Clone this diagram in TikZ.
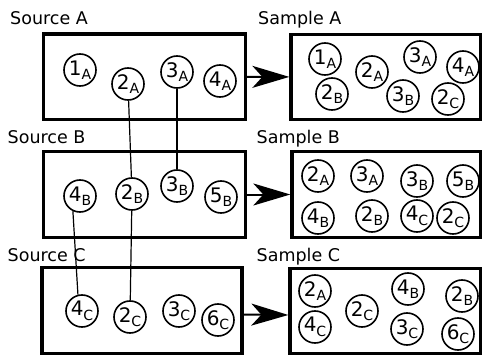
\documentclass[tikz,border=0pt]{standalone}
\usepackage{fontspec}
\setmainfont{DejaVu Sans}
\usetikzlibrary{arrows.meta}
\newcommand{\circtxt}[2]{{\fontsize{20}{20}\selectfont #1}\raisebox{-4.5pt}{\fontsize{14}{14}\selectfont #2}}
\begin{document}
\begin{tikzpicture}[x=1pt,y=-1pt,
  boxnode/.style={draw, line width=3.3pt, inner sep=0pt, minimum height=85.5pt},
  circ/.style={draw, circle, line width=1.6pt, minimum size=32pt, inner sep=0pt},
  arr/.style={line width=2pt, -{Stealth[length=37pt,width=22pt,inset=10pt]}},
  lbl/.style={anchor=base west, inner sep=0pt, font=\fontsize{17.5}{17.5}\selectfont},
  link/.style={line width=1.2pt}]
\useasboundingbox (0,0) rectangle (483,356);
% labels
\node[lbl] (tSA) at (10,24) {Source A};
\node[lbl] (tMA) at (258,24) {Sample A};
\node[lbl] (tSB) at (7.5,143) {Source B};
\node[lbl] (tMB) at (256.5,143) {Sample B};
\node[lbl] (tSC) at (7.5,261) {Source C};
\node[lbl] (tMC) at (256.5,261) {Sample C};
% boxes
\node[boxnode, minimum width=202pt] (srcA) at (144.5,76.75) {};
\node[boxnode, minimum width=189.5pt] (smpA) at (385.75,77) {};
\node[boxnode, minimum width=202pt] (srcB) at (144.5,194.5) {};
\node[boxnode, minimum width=188.5pt] (smpB) at (386.25,194.5) {};
\node[boxnode, minimum width=200pt] (srcC) at (142,310.5) {};
\node[boxnode, minimum width=190.5pt] (smpC) at (385.25,311) {};
% arrows
\draw[arr] (srcA) -- (smpA);
\draw[arr] (srcB) -- (smpB);
\draw[arr] ([yshift=-4pt]srcC.east) -- ([yshift=-4pt]smpC.west);
% source A
\node[circ] (a1) at (80,70) {\circtxt{1}{A}};
\node[circ] (a2) at (128,84) {\circtxt{2}{A}};
\node[circ] (a3) at (177,72) {\circtxt{3}{A}};
\node[circ] (a4) at (220,81) {\circtxt{4}{A}};
% source B
\node[circ] (b4) at (80,196) {\circtxt{4}{B}};
\node[circ] (b2) at (132,194) {\circtxt{2}{B}};
\node[circ] (b3) at (177,186) {\circtxt{3}{B}};
\node[circ] (b5) at (221,197) {\circtxt{5}{B}};
% source C
\node[circ] (c4) at (82,311) {\circtxt{4}{C}};
\node[circ] (c2) at (130,317) {\circtxt{2}{C}};
\node[circ] (c3) at (179,311) {\circtxt{3}{C}};
\node[circ] (c6) at (218,320) {\circtxt{6}{C}};
% links
\draw[link] (a2) -- (b2);
\draw[link] (a3) -- (b3);
\draw[link] (b2) -- (c2);
\draw[link] (b4.245) -- (c4.104);
% sample A
\node[circ] (sa1) at (325,59) {\circtxt{1}{A}};
\node[circ] (sa2) at (372,72) {\circtxt{2}{A}};
\node[circ] (sa3) at (420,57) {\circtxt{3}{A}};
\node[circ] (sa4) at (463,67) {\circtxt{4}{A}};
\node[circ] (sa5) at (332,94) {\circtxt{2}{B}};
\node[circ] (sa6) at (403,96) {\circtxt{3}{B}};
\node[circ] (sa7) at (448,99) {\circtxt{2}{C}};
% sample B
\node[circ] (sb1) at (318,176) {\circtxt{2}{A}};
\node[circ] (sb2) at (367,176) {\circtxt{3}{A}};
\node[circ] (sb3) at (417,181) {\circtxt{3}{B}};
\node[circ] (sb4) at (463,181) {\circtxt{5}{B}};
\node[circ] (sb5) at (318,218) {\circtxt{4}{B}};
\node[circ] (sb6) at (372,216) {\circtxt{2}{B}};
\node[circ] (sb7) at (417,216) {\circtxt{4}{C}};
\node[circ] (sb8) at (453,218) {\circtxt{2}{C}};
% sample C
\node[circ] (sc1) at (315,291) {\circtxt{2}{A}};
\node[circ] (sc2) at (315,327) {\circtxt{4}{C}};
\node[circ] (sc3) at (362,311) {\circtxt{2}{C}};
\node[circ] (sc4) at (408,289) {\circtxt{4}{B}};
\node[circ] (sc5) at (407,329) {\circtxt{3}{C}};
\node[circ] (sc6) at (462,296) {\circtxt{2}{B}};
\node[circ] (sc7) at (458,334) {\circtxt{6}{C}};
\end{tikzpicture}
\end{document}
